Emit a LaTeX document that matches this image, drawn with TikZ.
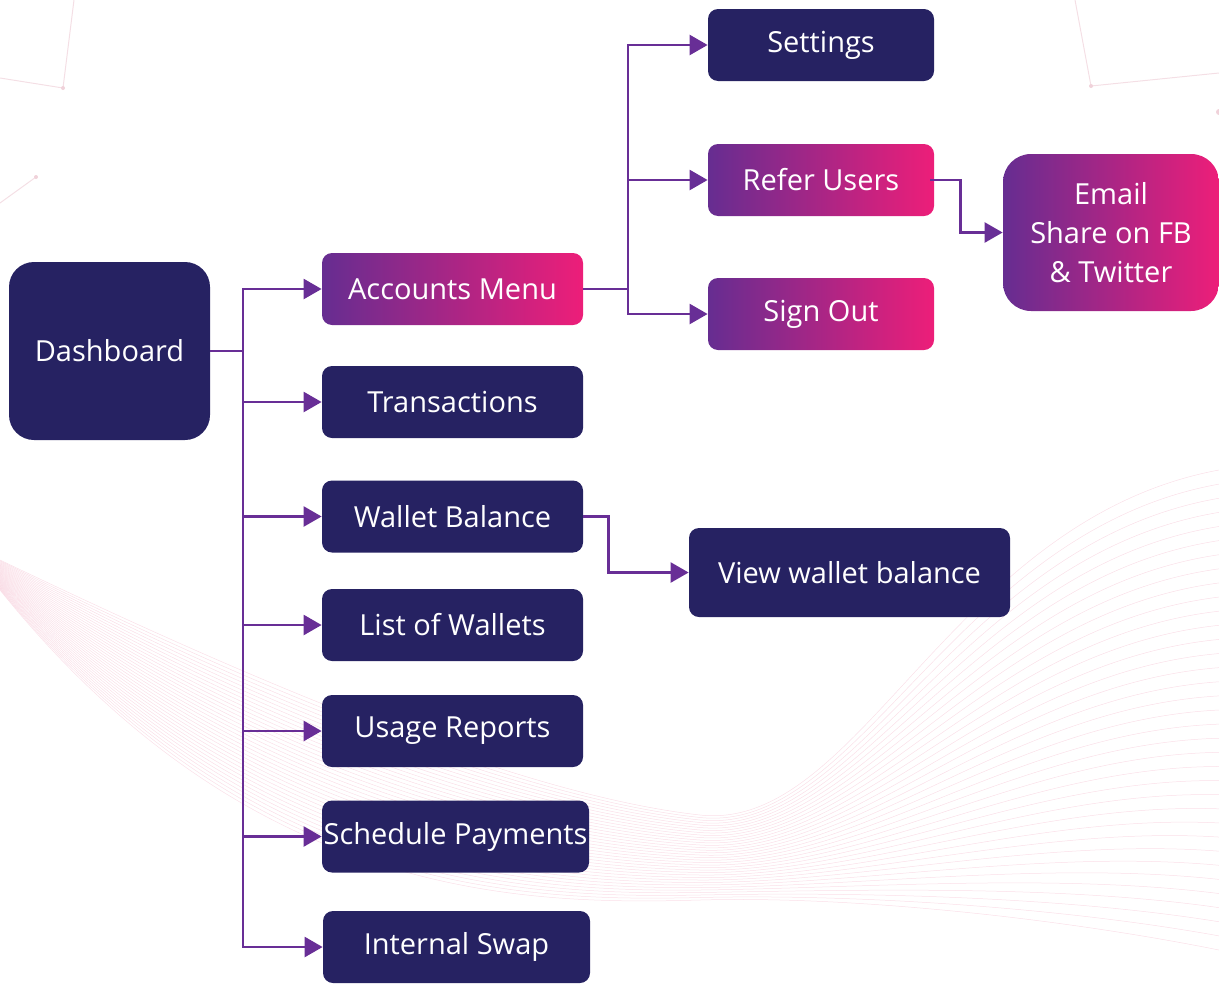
\documentclass[tikz,border=0pt]{standalone}
\usepackage{fontspec}
\setmainfont{Open Sans}
\usetikzlibrary{arrows.meta,calc}
\definecolor{navy}{RGB}{38,34,98}
\definecolor{gpurple}{RGB}{102,45,145}
\definecolor{gpink}{RGB}{237,30,121}
\definecolor{conncol}{RGB}{104,46,150}
\definecolor{wavecol}{RGB}{238,150,178}
\definecolor{netcol}{RGB}{240,210,218}
\tikzset{
  box/.style={fill=navy, text=white, rounded corners=5pt, inner sep=0pt,
    minimum height=36pt, font=\fontsize{14.5}{17.5}\selectfont},
  gbox/.style={box, fill=none, left color=gpurple, right color=gpink},
  conn/.style={draw=conncol, line width=1.25pt},
  arr/.style={conn, -{Triangle[length=9pt,width=10pt]}},
  wave/.style={draw=wavecol, line width=0.25pt, opacity=0.3},
  net/.style={draw=netcol, line width=0.5pt, opacity=0.7}
}
\begin{document}
\begin{tikzpicture}[x=0.5pt,y=-0.5pt]
\useasboundingbox (0,0) rectangle (1219,985);
% background decoration
\foreach \i in {0,...,34}{
  \pgfmathsetmacro\t{\i/34}
  \pgfmathsetmacro\ya{560+30*\t}
  \pgfmathsetmacro\yb{680+220*\t}
  \pgfmathsetmacro\yc{795+110*\t}
  \pgfmathsetmacro\yd{815+85*\t}
  \pgfmathsetmacro\ye{\yd+0.889*(\yd-\yc)}
  \pgfmathsetmacro\xf{950+120*\t}
  \pgfmathsetmacro\yf{520+400*\t}
  \pgfmathsetmacro\yg{470+480*\t}
  \draw[wave] (0,\ya) .. controls (250,\yb) and (520,\yc) .. (700,\yd)
     .. controls (860,\ye) and (\xf,\yf) .. (1219,\yg);
}
\draw[net] (0,78) -- (63,88) -- (74,0);
\draw[net] (0,203) -- (36,177);
\draw[net] (1075,0) -- (1091,86) -- (1219,73);
\fill[netcol] (63,88) circle (2) (36,177) circle (2) (1091,86) circle (2) (1219,112) circle (3);

% nodes
\node[box, minimum width=100.5pt, minimum height=89pt, rounded corners=12.5pt] (dash) at (109.5,351) {Dashboard};
\node[gbox, minimum width=130.5pt] (acc) at (452.5,289) {Accounts Menu};
\node[box, minimum width=130.5pt] (tra) at (452.5,402) {Transactions};
\node[box, minimum width=130.5pt] (wal) at (452.5,516.5) {Wallet Balance};
\node[box, minimum width=130.5pt] (lis) at (452.5,625) {List of Wallets};
\node[box, minimum width=130.5pt] (usa) at (452.5,731) {Usage Reports};
\node[box, minimum width=133.5pt] (sch) at (455.5,836.5) {Schedule Payments};
\node[box, minimum width=133.5pt] (int) at (456.5,947) {Internal Swap};
\node[box, minimum width=113pt] (set) at (821,45) {Settings};
\node[gbox, minimum width=113pt] (ref) at (821,180) {Refer Users};
\node[gbox, minimum width=113pt] (sig) at (821,314) {Sign Out};
\node[gbox, minimum width=108pt, minimum height=78.5pt, rounded corners=14pt, align=center,
  font=\fontsize{14.5}{19.5}\selectfont] (ema) at (1111,232.5) {Email\\Share on FB\\\& Twitter};
\node[box, minimum width=160.5pt, minimum height=44.5pt] (vie) at (849.5,572.5) {View wallet balance};

% connectors
\coordinate (tr) at (243,351);
\coordinate (br) at (628,289);
\draw[conn] (dash.east) -- (tr);
\foreach \n in {acc,tra,wal,lis,usa,sch,int}{
  \draw[arr] (tr) |- (\n.west);
}
\draw[conn] (acc.east) -- (br);
\foreach \n in {set,ref,sig}{
  \draw[arr] (br) |- (\n.west);
}
\draw[arr] ([xshift=-2pt]ref.east) -- ([xshift=13pt]ref.east) |- (ema.west);
\draw[arr] (wal.east) -- ([xshift=12.5pt]wal.east) |- (vie.west);
\end{tikzpicture}
\end{document}
